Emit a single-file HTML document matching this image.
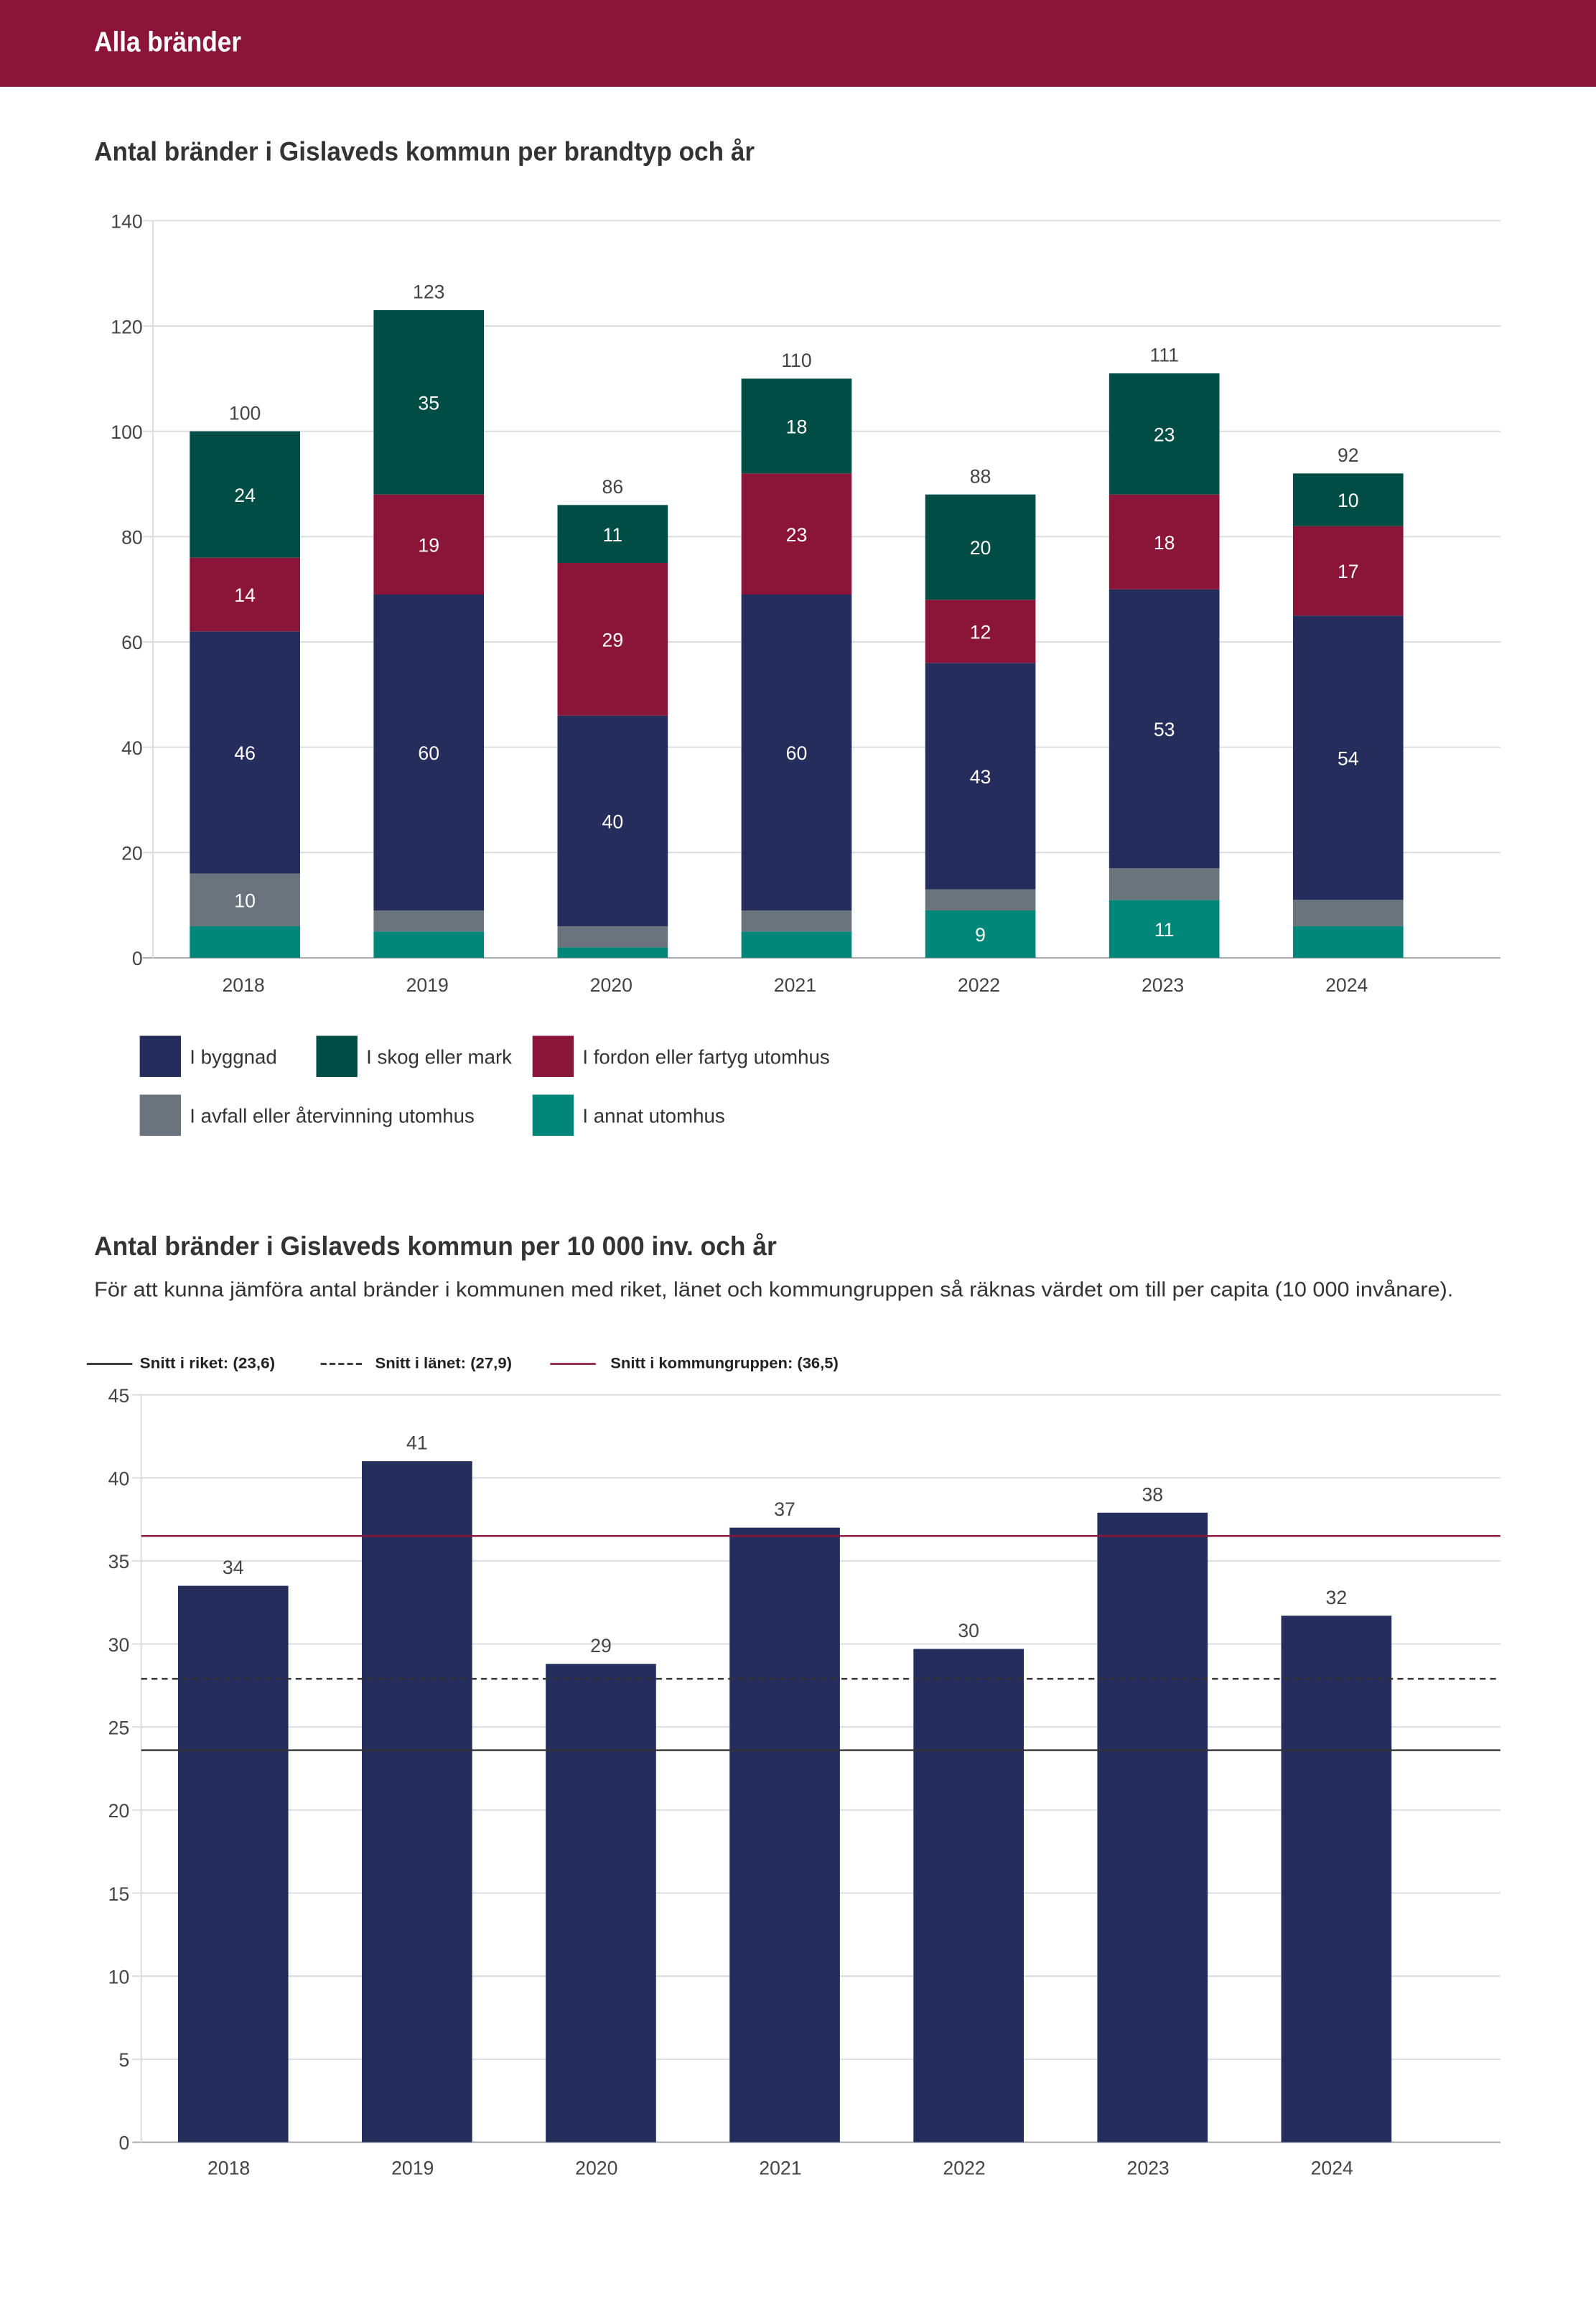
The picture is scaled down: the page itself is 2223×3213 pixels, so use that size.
<!DOCTYPE html>
<html><head><meta charset="utf-8"><style>
html,body{margin:0;padding:0;background:#fff;}
svg{display:block;font-family:"Liberation Sans",sans-serif;}
</style></head><body>
<svg id="page" width="2223" height="3213" viewBox="0 0 1085 1568" preserveAspectRatio="none" xmlns="http://www.w3.org/2000/svg">
<rect x="0" y="0" width="1085" height="59" fill="#8b1538"/>
<text x="64" y="35" fill="#fff" font-size="19" font-weight="bold" textLength="100" lengthAdjust="spacingAndGlyphs">Alla bränder</text>
<text x="64" y="109" fill="#333" font-size="18" font-weight="bold" textLength="449" lengthAdjust="spacingAndGlyphs">Antal bränder i Gislaveds kommun per brandtyp och år</text>
<g id="c1"></g>
<g id="legend1"></g>
<text x="64" y="853" fill="#333" font-size="18" font-weight="bold" textLength="464" lengthAdjust="spacingAndGlyphs">Antal bränder i Gislaveds kommun per 10 000 inv. och år</text>
<text x="64" y="881" fill="#333" font-size="14" textLength="924" lengthAdjust="spacingAndGlyphs">För att kunna jämföra antal bränder i kommunen med riket, länet och kommungruppen så räknas värdet om till per capita (10 000 invånare).</text>
<g id="legend2">
<line x1="59" y1="927" x2="90" y2="927" stroke="#222" stroke-width="1.3"/>
<text x="95" y="930" font-size="10.5" font-weight="bold" fill="#222" textLength="92" lengthAdjust="spacingAndGlyphs">Snitt i riket: (23,6)</text>
<line x1="218" y1="927" x2="248" y2="927" stroke="#222" stroke-width="1.3" stroke-dasharray="4,2"/>
<text x="255" y="930" font-size="10.5" font-weight="bold" fill="#222" textLength="93" lengthAdjust="spacingAndGlyphs">Snitt i länet: (27,9)</text>
<line x1="374" y1="927" x2="405" y2="927" stroke="#8b1538" stroke-width="1.3"/>
<text x="415" y="930" font-size="10.5" font-weight="bold" fill="#222" textLength="155" lengthAdjust="spacingAndGlyphs">Snitt i kommungruppen: (36,5)</text>
</g>
<g id="c2"></g>
</svg>
<script>
const NS='http://www.w3.org/2000/svg';
const years=['2018','2019','2020','2021','2022','2023','2024'];
const annat=[6,5,2,5,9,11,6];
const avfall=[10,4,4,4,4,6,5];
const byggnad=[46,60,40,60,43,53,54];
const fordon=[14,19,29,23,12,18,17];
const skog=[24,35,11,18,20,23,10];
const ticks1=[0,20,40,60,80,100,120,140];
const perCapita=[33.5,41.0,28.8,37.0,29.7,37.9,31.7];
const ticks2=[0,5,10,15,20,25,30,35,40,45];
const refRiket=23.6, refLanet=27.9, refGrupp=36.5;

function mk(tag,attrs,parent,txt){const e=document.createElementNS(NS,tag);for(const k in attrs)e.setAttribute(k,attrs[k]);if(txt!==undefined)e.textContent=txt;parent.appendChild(e);return e;}

// Chart 1
const c1=document.getElementById('c1');
const y1=v=>651-v*(501/140);
const x1=i=>104+62.5+i*125;
ticks1.forEach(t=>{
  const l=mk('line',{x1:97,x2:1020,y1:y1(t),y2:y1(t),stroke:t===0?'#aaa':'#ddd','stroke-width':1},c1);
  
  
  const tx=mk('text',{x:97,y:y1(t)+5,'text-anchor':'end','font-size':13,fill:'#444'},c1,String(t));
  
  
});
const ax=mk('line',{x1:104,x2:104,y1:150,y2:651,stroke:'#ddd'},c1);


const series=[['annat',annat,'#00877a'],['avfall',avfall,'#6b737c'],['byggnad',byggnad,'#252d5c'],['fordon',fordon,'#8b1538'],['skog',skog,'#004d45']];
years.forEach((yr,i)=>{
  let base=0;
  series.forEach(([nm,arr,col])=>{
    const v=arr[i];
    const r=mk('rect',{x:x1(i)-37.5,y:y1(base+v),width:75,height:y1(base)-y1(base+v),fill:col},c1);
    
    
    if(v>=8){
      const t=mk('text',{x:x1(i),y:y1(base+v/2)+5,'text-anchor':'middle','font-size':13,fill:'#fff'},c1,String(v));
      
      
    }
    base+=v;
  });
  const tt=mk('text',{x:x1(i),y:y1(base)-8,'text-anchor':'middle','font-size':13,fill:'#444'},c1,String(base));
  
  
  const xl=mk('text',{x:x1(i)-1,y:674,'text-anchor':'middle','font-size':13,fill:'#444'},c1,yr);
  
  
});
// legend 1
const lg=document.getElementById('legend1');
[[95,704,'#252d5c','I byggnad'],[215,704,'#004d45','I skog eller mark'],[362,704,'#8b1538','I fordon eller fartyg utomhus'],[95,744,'#6b737c','I avfall eller återvinning utomhus'],[362,744,'#00877a','I annat utomhus']].forEach(([x,y,c,t])=>{
  const s=mk('rect',{x:x,y:y,width:28,height:28,fill:c},lg);
  
  
  const tx=mk('text',{x:x+34,y:y+19,'font-size':13.5,fill:'#333'},lg,t);
  
  
});

// Chart 2
const c2=document.getElementById('c2');
const y2=v=>1456-v*(508/45);
const x2=i=>96+62.5+i*125;
ticks2.forEach(t=>{
  const l=mk('line',{x1:90,x2:1020,y1:y2(t),y2:y2(t),stroke:t===0?'#aaa':'#ddd','stroke-width':1},c2);
  
  
  const tx=mk('text',{x:88,y:y2(t)+5,'text-anchor':'end','font-size':13,fill:'#444'},c2,String(t));
  
  
});
const ax2=mk('line',{x1:96,x2:96,y1:948,y2:1456,stroke:'#ddd'},c2);


years.forEach((yr,i)=>{
  const v=perCapita[i];
  const r=mk('rect',{x:x2(i)-37.5,y:y2(v),width:75,height:y2(0)-y2(v),fill:'#252d5c'},c2);
  
  
  const t=mk('text',{x:x2(i),y:y2(v)-8,'text-anchor':'middle','font-size':13,fill:'#444'},c2,String(Math.round(v)));
  
  
  const xl=mk('text',{x:x2(i)-3,y:1478,'text-anchor':'middle','font-size':13,fill:'#444'},c2,yr);
  
  
});
[[refRiket,'#333',null,'ref-line-riket'],[refLanet,'#333','4,3','ref-line-lanet'],[refGrupp,'#8b1538',null,'ref-line-kommungrupp']].forEach(([v,c,d,n])=>{
  const a={x1:96,x2:1020,y1:y2(v),y2:y2(v),stroke:c,'stroke-width':1.2};
  if(d)a['stroke-dasharray']=d;
  const l=mk('line',a,c2);
  
  
});
</script>
</body></html>
